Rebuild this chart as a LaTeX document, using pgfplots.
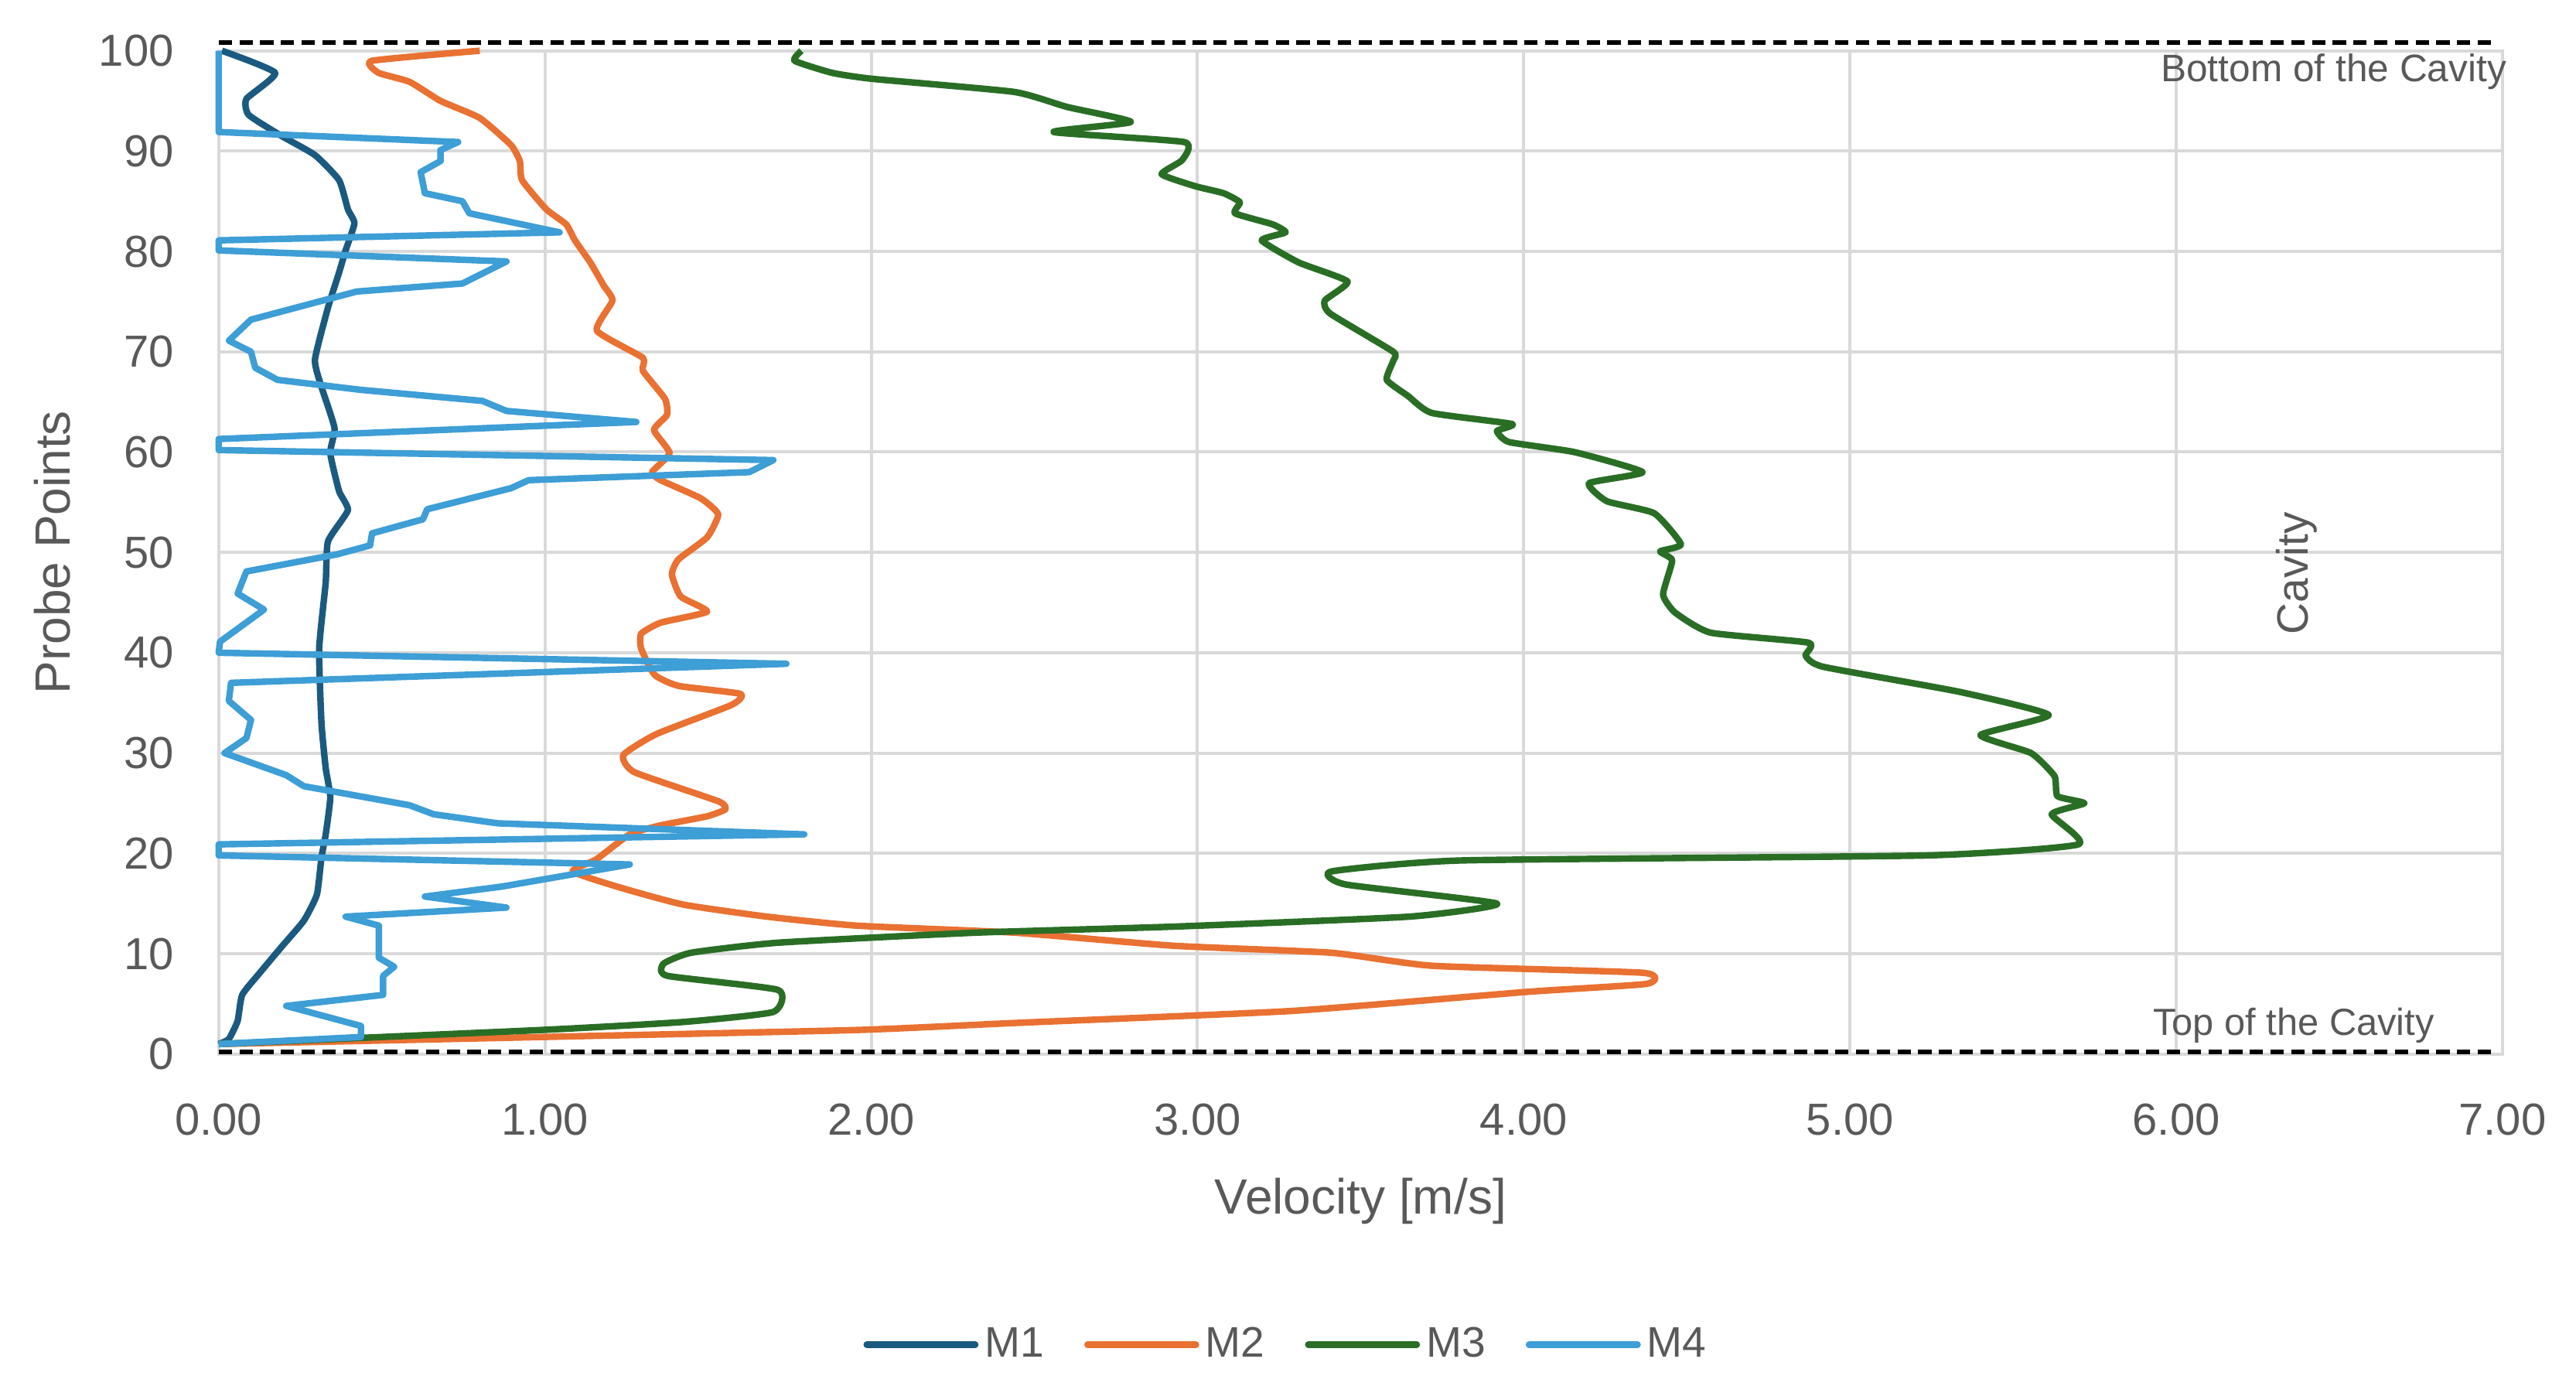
\documentclass[border=0pt]{standalone}
\usepackage{fontspec}
\setmainfont{Liberation Sans}
\usepackage{pgfplots}
\pgfplotsset{compat=1.18}
\definecolor{cMone}{HTML}{1B5A80}
\definecolor{cMtwo}{HTML}{E97132}
\definecolor{cMthree}{HTML}{2A6E26}
\definecolor{cMfour}{HTML}{3E9ED6}
\definecolor{gridc}{HTML}{D9D9D9}
\definecolor{txt}{HTML}{595959}
\begin{document}
\begin{tikzpicture}
\begin{axis}[
  scale only axis, width=738.3pt, height=324.3pt,
  xmin=0, xmax=7, ymin=0, ymax=100,
  xtick={0,1,...,7}, ytick={0,10,...,100},
  grid=major, major grid style={draw=gridc, line width=1pt},
  axis line style={draw=gridc, line width=1pt},
  major tick length=0pt,
  clip=false,
  /pgf/number format/assume math mode=true,
  tick label style={font=\fontsize{14.5}{17}\selectfont, text=txt},
  x tick label style={/pgf/number format/fixed, /pgf/number format/fixed zerofill, /pgf/number format/precision=2, yshift=-12.5pt},
  y tick label style={xshift=-11pt},
  xlabel={Velocity [m/s]},
  ylabel={Probe Points},
  xlabel style={font=\fontsize{16}{19}\selectfont, text=txt, at={(axis description cs:0.5,-0.1465)}, anchor=center},
  ylabel style={font=\fontsize{16}{19}\selectfont, text=txt, at={(axis description cs:-0.0727,0.5)}, anchor=center},
  legend style={at={(axis description cs:0.4682,-0.2896)}, anchor=center, draw=none, fill=none,
    font=\fontsize{13.8}{16}\selectfont, text=txt, legend columns=4,
    /tikz/every even column/.append style={column sep=11pt}},
  legend image code/.code={\draw[#1, line width=2.2pt, line cap=round] (0pt,0pt) -- (35pt,0pt);},
  every axis plot/.append style={line width=2.1pt, line join=round, mark=none},
]
\addplot[cMone, smooth, tension=0.3] coordinates {
(0.01,100) (0.173,97.8) (0.085,95.2) (0.092,93.6) (0.193,91.5) (0.295,89.6) (0.369,87.1)
(0.396,84.2) (0.416,82.8) (0.389,80.1) (0.369,77.9) (0.335,74.4) (0.295,69.2) (0.315,66.5)
(0.355,62.4) (0.342,59.9) (0.369,56.1) (0.396,54.2) (0.335,51.1) (0.328,47.0) (0.308,40.4)
(0.315,33.0) (0.328,28.5) (0.342,25.6) (0.328,21.9) (0.315,19.6) (0.301,15.9) (0.261,13.3)
(0.193,10.7) (0.126,8.1) (0.072,5.9) (0.058,3.3) (0.031,1.5) (0,1)
};
\addlegendentry{M1}
\addplot[cMtwo, smooth, tension=0.3] coordinates {
(0.80,100) (0.47,99.0) (0.49,97.8) (0.585,96.9) (0.68,95.0) (0.80,93.3) (0.896,90.6)
(0.923,89.0) (0.93,87.1) (1.004,84.2) (1.065,82.7) (1.092,81.1) (1.139,78.9) (1.18,76.6)
(1.207,75.1) (1.159,72.1) (1.30,69.4) (1.30,68.1) (1.368,65.3) (1.374,63.7) (1.334,62.2)
(1.382,59.9) (1.328,58.0) (1.355,57.2) (1.477,55.4) (1.531,53.8) (1.497,51.5) (1.409,49.3)
(1.389,47.8) (1.416,45.6) (1.497,44.1) (1.355,43.0) (1.295,41.9) (1.295,40.4) (1.336,37.8)
(1.409,36.7) (1.599,35.9) (1.572,34.8) (1.342,31.9) (1.24,29.8) (1.274,28.1) (1.531,25.2)
(1.553,24.4) (1.497,23.7) (1.355,22.8) (1.26,21.9) (1.157,19.4) (1.085,18.2) (1.23,16.6)
(1.424,14.9) (1.68,13.7) (1.956,12.8) (2.44,12.1) (2.925,10.8) (3.41,10.1) (3.72,8.8)
(4.366,8.1) (4.377,7.0) (4.01,6.2) (3.29,4.3) (2.44,3.1) (1.956,2.4) (0.988,1.7) (0,1)
};
\addlegendentry{M2}
\addplot[cMthree, smooth, tension=0.3] coordinates {
(1.786,100) (1.765,99.0) (1.88,97.8) (2.003,97.2) (2.437,95.9) (2.60,94.4) (2.796,92.9)
(2.559,91.9) (2.959,90.9) (2.953,89.1) (2.89,87.7) (2.993,86.5) (3.08,85.8) (3.13,84.9)
(3.115,83.8) (3.23,82.7) (3.27,81.9) (3.197,81.1) (3.31,78.9) (3.46,77.0) (3.39,75.1)
(3.407,73.8) (3.60,70.0) (3.60,69.1) (3.58,67.2) (3.645,65.6) (3.718,63.9) (3.964,62.8)
(3.918,62.1) (3.955,61.0) (4.155,60.0) (4.364,58.0) (4.20,56.9) (4.255,55.1) (4.40,53.9)
(4.482,50.8) (4.418,50.1) (4.455,49.2) (4.427,45.8) (4.464,44.0) (4.573,42.0) (4.873,41.0)
(4.864,39.7) (4.918,38.6) (5.336,36.1) (5.609,33.8) (5.40,31.8) (5.555,30.0) (5.627,27.7)
(5.636,25.7) (5.718,25.0) (5.618,23.9) (5.70,20.9) (5.236,19.8) (3.81,19.3) (3.41,18.2)
(3.455,16.9) (3.918,15.0) (3.65,13.7) (2.925,12.7) (2.32,12.1) (1.714,11.1) (1.448,10.1)
(1.363,9.0) (1.375,7.8) (1.714,6.4) (1.70,4.2) (1.424,3.2) (0.988,2.4) (0,1)
};
\addlegendentry{M3}
\addplot[cMfour] coordinates {
(0,100) (0,91.9) (0.734,90.9) (0.68,90.1) (0.68,89.0) (0.619,87.9) (0.632,85.8) (0.747,85.0)
(0.768,83.8) (1.045,81.9) (0,81.1) (0,80.1) (0.882,79.0) (0.747,76.8) (0.423,76.0) (0.099,73.2)
(0.031,71.1) (0.099,70.0) (0.112,68.4) (0.18,67.2) (0.436,66.2) (0.808,65.1) (0.882,64.1)
(1.28,63.0) (0,61.3) (0,60.2) (1.70,59.2) (1.626,58.0) (0.95,57.2) (0.896,56.4) (0.639,54.3)
(0.626,53.3) (0.47,51.9) (0.464,50.7) (0.362,49.8) (0.085,48.1) (0.058,45.9) (0.139,44.3)
(0.004,41.1) (0,40.0) (1.74,38.9) (0.038,37.0) (0.031,35.2) (0.099,33.3) (0.085,31.5)
(0.018,30.0) (0.207,27.8) (0.261,26.7) (0.585,24.8) (0.659,23.9) (0.855,23.0) (1.795,21.9)
(0,20.9) (0,19.8) (1.26,18.9) (0.869,16.7) (0.632,15.7) (0.882,14.6) (0.389,13.7) (0.491,12.8)
(0.491,9.6) (0.538,8.7) (0.504,7.8) (0.504,5.9) (0.207,4.8) (0.436,2.8) (0.436,1.7) (0,1)
};
\addlegendentry{M4}
\addplot[black, line width=1.6pt, dash pattern=on 4.3pt off 2.4pt, forget plot] coordinates {(0,100.8) (6.97,100.8)};
\addplot[black, line width=1.6pt, dash pattern=on 4.3pt off 2.4pt, forget plot] coordinates {(0,0.2) (6.97,0.2)};
\node[anchor=east, font=\fontsize{12.4}{14}\selectfont, text=txt] at (axis cs:7.045,97.9) {Bottom of the Cavity};
\node[font=\fontsize{12.2}{14}\selectfont, text=txt] at (axis cs:6.36,2.83) {Top of the Cavity};
\node[rotate=90, font=\fontsize{14.2}{16}\selectfont, text=txt] at (axis cs:6.37,47.9) {Cavity};
\end{axis}
\pgfresetboundingbox
\path (-70.7pt,-109.3pt) rectangle (762.05pt,340.7pt);
\end{tikzpicture}
\end{document}
